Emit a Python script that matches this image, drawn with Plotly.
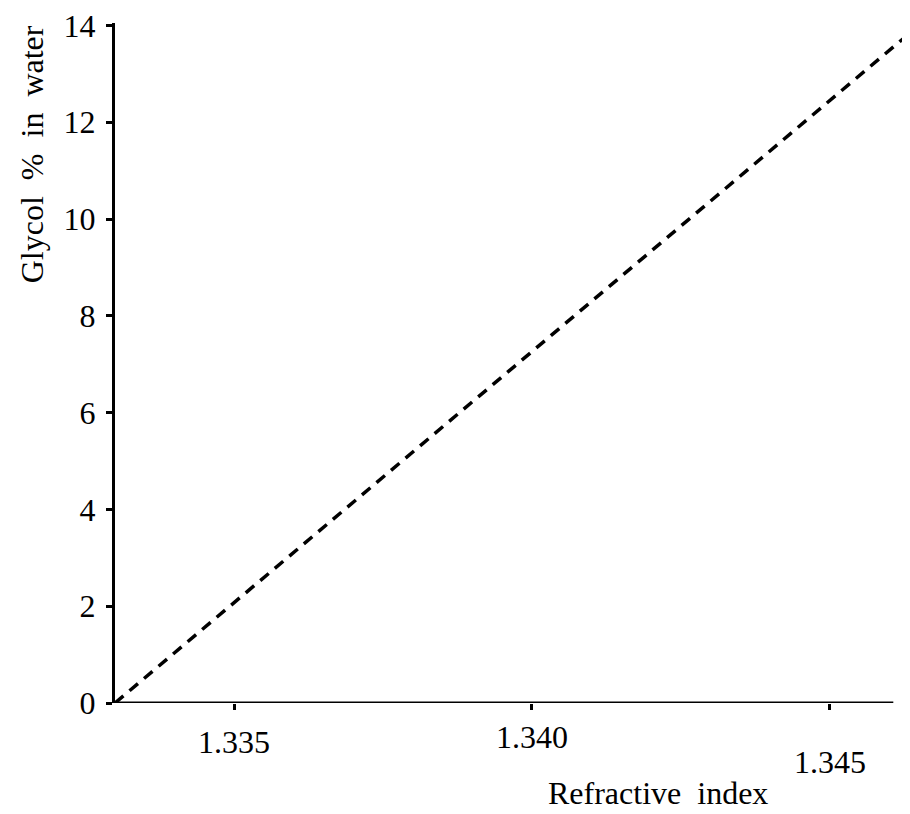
import plotly.graph_objects as go

# Data
refractive_index = [1.3330, 1.3465]
glycol_percent = [0.0, 14.0]

x_tick_vals = [1.335, 1.340, 1.345]
x_tick_text = ["1.335", "1.340", "1.345"]
x_tick_shift = [-39, -34, -59]  # staggered vertical offsets of tick labels (as in scan)
y_tick_vals = [0, 2, 4, 6, 8, 10, 12, 14]

FONT = "Liberation Serif"
FS = 32

fig = go.Figure()
fig.add_trace(go.Scatter(
    x=refractive_index, y=glycol_percent, mode="lines",
    line=dict(color="black", width=3.5, dash="11px,8px"),
    showlegend=False, hoverinfo="skip", cliponaxis=True,
))

fig.update_layout(
    width=902, height=806,
    margin=dict(l=107, r=0, t=10, b=111),
    paper_bgcolor="white", plot_bgcolor="white",
    font=dict(family=FONT, color="black", size=FS),
    xaxis=dict(
        range=[1.333, 1.34635], showgrid=False, zeroline=False, showline=False,
        tickvals=x_tick_vals, ticks="outside", ticklen=6, tickwidth=3, tickcolor="black",
        showticklabels=False,
    ),
    yaxis=dict(
        range=[0, 14.05], showgrid=False, zeroline=False, showline=True,
        linecolor="black", linewidth=3,
        tickvals=y_tick_vals, ticks="outside", ticklen=6, tickwidth=3, tickcolor="black",
        ticklabelstandoff=4, ticklabeloverflow="allow",
        tickfont=dict(family=FONT, size=FS, color="black"),
    ),
)

# x axis line (stops before the right edge, as in the reference)
fig.add_shape(type="line", xref="x domain", yref="y", x0=0, x1=0.979, y0=0, y1=0,
              line=dict(color="black", width=3))

for v, t, s in zip(x_tick_vals, x_tick_text, x_tick_shift):
    fig.add_annotation(x=v, y=0, xref="x", yref="y", text=t, showarrow=False,
                       xanchor="center", yanchor="middle",
                       yshift=s, font=dict(family=FONT, size=FS, color="black"))

fig.add_annotation(x=0.683, y=0, xref="paper", yref="paper", text="Refractive  index",
                   showarrow=False, xanchor="center", yanchor="middle", yshift=-90,
                   font=dict(family=FONT, size=FS, color="black"))
fig.add_annotation(x=0, y=0.807, xref="paper", yref="paper", text="Glycol  %  in  water",
                   textangle=-90, showarrow=False, xanchor="center", yanchor="middle",
                   xshift=-83, font=dict(family=FONT, size=FS, color="black"))

fig.write_html("out.html")
